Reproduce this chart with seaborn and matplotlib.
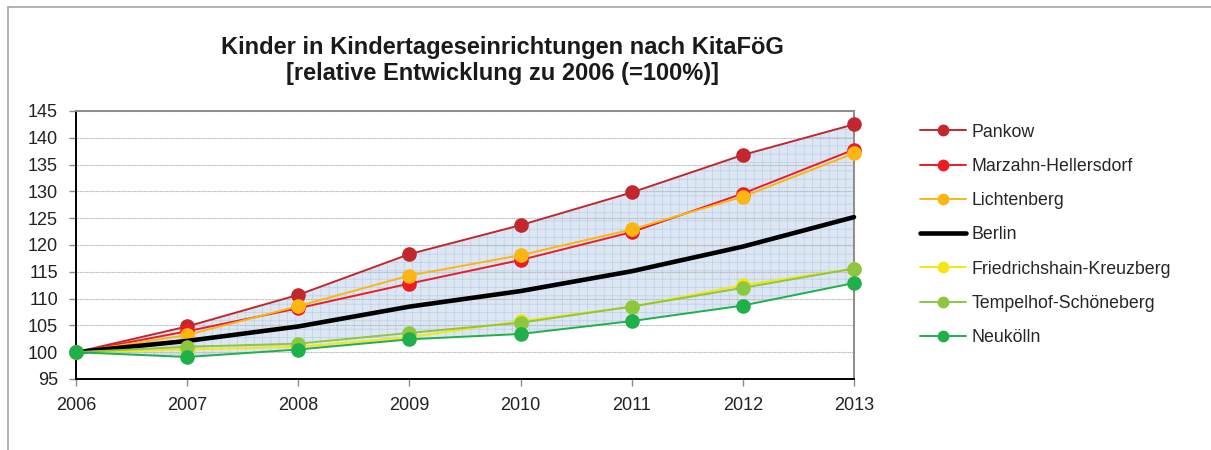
import numpy as np
import pandas as pd
import seaborn as sns
import matplotlib.pyplot as plt
from matplotlib.lines import Line2D

years = [2006, 2007, 2008, 2009, 2010, 2011, 2012, 2013]

pankow = [100, 104.8, 110.7, 118.3, 123.7, 129.8, 136.8, 142.5]
marzahn = [100, 103.9, 108.2, 112.8, 117.2, 122.4, 129.6, 137.8]
lichtenberg = [100, 103.2, 108.6, 114.3, 118.1, 122.9, 129.0, 137.1]
berlin = [100, 102.1, 104.8, 108.5, 111.4, 115.1, 119.7, 125.2]
friedrichshain = [100, 100.5, 101.0, 102.8, 105.8, 108.5, 112.5, 115.6]
tempelhof = [100, 101.0, 101.6, 103.6, 105.5, 108.5, 112.0, 115.6]
neukoelln = [100, 99.1, 100.5, 102.4, 103.4, 105.8, 108.7, 112.9]

series_names = ['Pankow', 'Marzahn-Hellersdorf', 'Lichtenberg', 'Berlin',
                'Friedrichshain-Kreuzberg', 'Tempelhof-Schöneberg', 'Neukölln']
series_values = [pankow, marzahn, lichtenberg, berlin, friedrichshain, tempelhof, neukoelln]
series_colors = ['#c1272d', '#ed1c24', '#fbb613', '#000000', '#f5e614', '#8dc63f', '#1fb04b']

title = 'Kinder in Kindertageseinrichtungen nach KitaFöG\n[relative Entwicklung zu 2006 (=100%)]'

sns.set_style('white')
plt.rcParams['font.family'] = ['Liberation Sans', 'DejaVu Sans']
plt.rcParams['hatch.linewidth'] = 0.5

fig = plt.figure(figsize=(12.11, 4.5), dpi=100)
ax = fig.add_axes([0.0628, 0.1578, 0.6424, 0.5956])

# band between highest and lowest district
ax.fill_between(years, pankow, neukoelln, facecolor='#dde7f3', edgecolor='#bccfe7',
                hatch='++', linewidth=0, zorder=1)

handles = []
for name, vals, col in zip(series_names, series_values, series_colors):
    if name == 'Berlin':
        sns.lineplot(x=years, y=vals, color=col, linewidth=3.3, ax=ax, zorder=3)
        handles.append(Line2D([], [], color=col, linewidth=3.3, label=name))
    else:
        sns.lineplot(x=years, y=vals, color=col, linewidth=1.4, marker='o', markersize=10.5,
                     markeredgewidth=0, ax=ax, zorder=3)
        handles.append(Line2D([], [], color=col, linewidth=1.4, marker='o', markersize=8.5,
                              markeredgewidth=0, label=name))
for ln in ax.lines:
    ln.set_clip_on(False)

ax.set_xlim(2006, 2013)
ax.set_ylim(95, 145)
ax.set_xticks(years)
ax.set_yticks(np.arange(95, 146, 5))
ax.tick_params(axis='both', labelsize=13, colors='#8c8c8c', labelcolor='#222222',
               length=5, width=1, direction='out', bottom=True, left=True, pad=8)
ax.set_axisbelow('line')
ax.yaxis.grid(True, color='#b4b4b4', linewidth=0.8, linestyle=(0, (1, 0.6)))
ax.xaxis.grid(False)
ax.set_xlabel('')
ax.set_ylabel('')

for side in ['left', 'bottom']:
    ax.spines[side].set_color('#000000')
    ax.spines[side].set_linewidth(1.4)
for side in ['top', 'right']:
    ax.spines[side].set_color('#8c8c8c')
    ax.spines[side].set_linewidth(1.4)

fig.text(0.415, 0.866, title, ha='center', va='center', fontsize=17, fontweight='bold',
         color='#1a1a1a', linespacing=1.15)

fig.legend(handles=handles, loc='upper left', bbox_to_anchor=(0.7525, 0.745), frameon=False,
           fontsize=12.8, handlelength=2.6, handletextpad=0.28, labelspacing=0.97, borderpad=0)

# chart frame (top and left edge visible)
fig.add_artist(Line2D([8 / 1211, 1], [1 - 7 / 450, 1 - 7 / 450], color='#a6a6a6', linewidth=1.2,
                      transform=fig.transFigure))
fig.add_artist(Line2D([8 / 1211, 8 / 1211], [0, 1 - 7 / 450], color='#a6a6a6', linewidth=1.2,
                      transform=fig.transFigure))

fig.savefig('out.png', dpi=100)
